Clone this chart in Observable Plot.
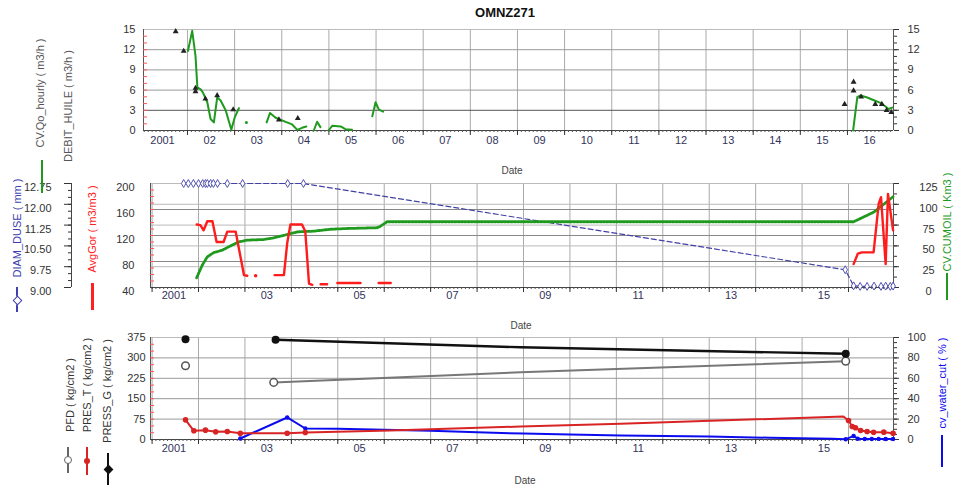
<!DOCTYPE html>
<html><head><meta charset="utf-8">
<script src="https://cdn.jsdelivr.net/npm/d3@7"></script>
<script src="https://cdn.jsdelivr.net/npm/@observablehq/plot@0.6"></script>
<style>
body{margin:0;background:#fff;}
#c{position:relative;width:959px;height:487px;overflow:hidden;font-family:"Liberation Sans",Arial,sans-serif;background:#fff;}
#c svg{position:absolute;left:0;top:0;}
.t{position:absolute;white-space:nowrap;font-size:11px;transform:translate(-50%,-50%) rotate(-90deg);}
.h{position:absolute;white-space:nowrap;transform:translate(-50%,-50%);}
.g{position:absolute;}
</style></head><body><div id="c"></div>
<script>
// ---------- Panel 1 : flow rates ----------
const qoYear = [2002.01,2002.10,2002.17,2002.21,2002.28,2002.33,2002.42,2002.49,2002.56,2002.63,2002.70,2002.81,2002.93,2003.00,2003.09,null,
 2003.68,2003.75,2003.87,2003.97,2004.11,2004.22,2004.33,2004.43,2004.52,null,
 2004.68,2004.75,2004.82,null,
 2004.99,2005.07,2005.25,2005.35,2005.49,null,
 2005.92,2005.99,2006.06,2006.15,null,
 2016.12,2016.21,2016.28,2016.42,2016.56,2016.70,2016.80,2016.87,2016.95];
const qoValue = [11.8,14.8,11.1,6.4,6.1,5.6,4.2,1.7,1.2,4.9,4.5,3.0,0.1,1.9,3.3,null,
 1.2,2.6,1.9,1.6,1.2,0.9,0.1,0.4,0.6,null,
 0.0,1.3,0.5,null,
 0.0,0.7,0.6,0.2,0.1,null,
 2.1,4.2,3.1,2.8,null,
 0,5.0,5.2,4.9,4.5,4.1,3.6,3.2,3.4];
const qoLoneYear = [2003.25], qoLoneValue = [1.2];
const debitYear = [2001.75,2001.92,2002.17,2002.17,2002.38,2002.63,2002.97,2003.94,2004.34,2015.94,2016.13,2016.13,2016.29,2016.59,2016.73,2016.83,2016.93];
const debitValue = [14.7,11.8,6.3,5.8,4.7,5.2,3.1,1.6,1.8,3.9,7.2,5.9,5.0,3.9,3.9,3.0,2.7];
const qTicks = [0,3,6,9,12,15];
const years1 = d3.range(2001, 2017);
const labels1 = ["2001","02","03","04","05","06","07","08","09","10","11","12","13","14","15","16"];

// ---------- Panel 2 : GOR, cum oil, choke ----------
const gorYear = [2001.96,2002.04,2002.11,2002.19,2002.30,2002.39,2002.54,2002.62,2002.80,2002.98,2003.05,null,
 2003.64,2003.84,2003.91,2003.98,2004.23,2004.30,2004.38,2004.45,null,
 2004.63,2004.77,null,2004.99,2005.49,null,2005.88,2006.14,null,
 2016.11,2016.20,2016.29,2016.54,2016.65,2016.70,2016.80,2016.85,2016.96];
const gorValue = [137,136,128,142,142,110,110,126,126,59,58,null,
 59,59,108,137,137,126,46,44,null,
 45,45,null,47,47,null,47,47,null,
 76,92,94,94,169,179,76,184,128];
const gorLoneYear = [2003.23], gorLoneValue = [58];
const cumYear = [2001.96,2002.08,2002.19,2002.33,2002.51,2002.65,2002.87,2003.05,2003.41,2003.62,2003.91,2004.13,2004.48,2004.84,2005.20,2005.85,2005.92,2006.06,2016.11,2016.54,2016.96];
const cumValue = [11.7,26.8,36.9,42,44.8,48.9,54.9,56.9,57.7,59.7,63.7,66.9,67.7,70,70.9,71.8,73.7,79,79,90.5,109];
const diamYear = [2001.68,2001.78,2001.89,2002.00,2002.09,2002.15,2002.19,2002.26,2002.32,2002.41,2002.62,2002.95,2003.92,2004.26,2015.93,2016.11,2016.25,2016.40,2016.55,2016.70,2016.80,2016.90,2016.96];
const diamValue = [12.75,12.75,12.75,12.75,12.75,12.75,12.75,12.75,12.75,12.75,12.75,12.75,12.75,12.75,9.64,9.06,9.04,9.04,9.05,9.04,9.05,9.04,9.05];
const gorTicks = [40,80,120,160,200];
const cumTicks = [0,25,50,75,100,125];
const diamTicks = [9.00,9.75,10.50,11.25,12.00,12.75];
const years2 = d3.range(2001, 2017);
const labYears2 = [2001,2003,2005,2007,2009,2011,2013,2015];
const labels2 = ["2001","03","05","07","09","11","13","15"];

// ---------- Panel 3 : pressures, water cut ----------
const pgYear = [2003.66,2008.94,2015.94], pgValue = [366.5,339,315];
const pgMarkYear = [2001.72,2003.66,2015.94], pgMarkValue = [368.7,366.5,315];
const pfdYear = [2003.62,2008.94,2015.94], pfdValue = [210,247,288];
const pfdMarkYear = [2001.72,2003.62,2015.94], pfdMarkValue = [271,210,288];
const ptYear = [2001.72,2001.90,2002.15,2002.37,2002.62,2002.90,2003.91,2004.30,2006.14,2008.94,2011.09,2013.68,2015.89,2016.00,2016.08,2016.15,2016.26,2016.40,2016.54,2016.76,2016.96];
const ptValue = [72.3,32,34.3,28.2,29.4,23.2,23,25.7,33,47.8,57.7,72.3,84.6,70,48,43,33,29.4,26.9,27,23];
const wcYear = [2002.90,2003.91,2004.30,2005.0,2006.0,2007.0,2008.0,2009.0,2010.0,2011.1,2013.0,2014.3,2015.65,2015.94,2016.11,2016.20,2016.35,2016.5,2016.65,2016.8,2016.96];
const wcValue = [1,21.6,10.8,10.5,9.5,8.5,7,5.8,4.8,3.9,2.9,1.7,0.7,0.2,3.5,0.7,0.5,0.5,0.6,0.5,0.5];
const presTicks = [0,75,150,225,300,375];
const wcTicks = [0,20,40,60,80,100];

// ---------- helpers ----------
const W = 959, H = 487;
const FONT = '"Liberation Sans", Arial, sans-serif';
const green = "#1f9a1f", red = "#ff1c1c", navy = "#4141a8", blue = "#0b0bef", dred = "#d82424";
const rows = (t, v) => t.map((d, i) => ({t: d, v: v[i]}));
const xd1 = [2001.067, 2016.977], xd2 = [2000.966, 2016.969];
const months = dom => d3.range(2001, 2017.001, 1/12).filter(d => d > dom[0] && d < dom[1]);
const blank = () => "";

function xAxes(years, labYears, labels, dom, pad) {
  return [
    Plot.axisX(months(dom), {tickSize: 2, tickFormat: blank, stroke: "#555", label: null}),
    Plot.axisX(years.filter(d => d > dom[0] && d < dom[1]), {tickSize: 5, tickFormat: blank, stroke: "#333", label: null}),
    Plot.axisX(labYears.map(y => y + 0.47), {tickSize: 0, tickPadding: pad, fill: "#33335a",
      tickFormat: d => labels[labYears.indexOf(Math.round(d - 0.47))], label: null})
  ];
}
function plot(box, xdom, ydom, marks) {
  return Plot.plot({
    width: W, height: H,
    marginLeft: box[0], marginRight: W - box[1], marginTop: box[2], marginBottom: H - box[3],
    x: {domain: xdom}, y: {domain: ydom},
    style: {background: "transparent", fontFamily: FONT, fontSize: "11px", color: "#333", overflow: "visible"},
    marks
  });
}

// ---------- Panel 1 ----------
const b1 = [143, 893, 29, 130];
const p1 = plot(b1, xd1, [0, 15], [
  Plot.ruleX(years1.filter(d => d > xd1[0]), {stroke: "#aaa"}),
  Plot.ruleY([6, 9, 12], {stroke: "#999"}),
  Plot.ruleY([3], {stroke: "#555"}),
  Plot.ruleY([15], {stroke: "#bbb"}),
  Plot.ruleX(xd1, {stroke: "#555"}),
  Plot.ruleY([0], {stroke: "#444"}),
  Plot.tickY(d3.range(1, 15), {y: d => d, stroke: "#f55", insetRight: b1[1] - b1[0] - 4}),
  Plot.axisY(qTicks, {anchor: "left", tickSize: 0, tickPadding: 8, label: null}),
  Plot.axisY(qTicks, {anchor: "right", tickSize: 5, tickPadding: 9, label: null}),
  Plot.axisY(d3.range(0, 15.01, 1), {anchor: "right", tickSize: 3, tickFormat: blank, label: null}),
  ...xAxes(years1, years1, labels1, xd1, 6),
  Plot.line(rows(qoYear, qoValue), {x: "t", y: "v", stroke: green, strokeWidth: 2}),
  Plot.dot(rows(qoLoneYear, qoLoneValue), {x: "t", y: "v", fill: green, r: 1.5}),
  Plot.dot(rows(debitYear, debitValue), {x: "t", y: "v", symbol: "triangle", fill: "#222", r: 2.2})
]);

// ---------- Panel 2 ----------
const b2 = [150, 893, 183, 287];
const toC = v => 40 + v * 160 / 125, frC = v => (v - 40) * 125 / 160;
const toD = v => 40 + (v - 9) * 160 / 3.75, frD = v => 9 + (v - 40) * 3.75 / 160;
const p2 = plot(b2, xd2, [40, 200], [
  Plot.ruleX(years2.filter(d => d > xd2[0]), {stroke: "#aaa"}),
  Plot.ruleY(cumTicks.slice(1, -1).map(toC), {stroke: "#bbb"}),
  Plot.ruleY([80, 120, 160], {stroke: "#888"}),
  Plot.ruleY([200], {stroke: "#bbb"}),
  Plot.ruleX(xd2, {stroke: "#555"}),
  Plot.ruleY([40], {stroke: "#444"}),
  Plot.tickY(d3.range(50, 200, 10), {y: d => d, stroke: "#f55", insetRight: b2[1] - b2[0] - 4}),
  Plot.axisY(gorTicks, {anchor: "left", tickSize: 0, tickPadding: 16, dy: 4, label: null}),
  // choke axis, far left
  Plot.ruleX([xd2[0]], {stroke: "#444", dx: -79}),
  Plot.axisY(diamTicks.map(toD), {anchor: "left", dx: -79, tickSize: 7, tickFormat: blank, label: null}),
  Plot.axisY(d3.range(9, 12.76, 0.25).map(toD), {anchor: "left", dx: -79, tickSize: 3, tickFormat: blank, label: null}),
  Plot.axisY(diamTicks.map(toD), {anchor: "left", dx: -79, dy: 4, tickSize: 0, tickPadding: 20, tickFormat: v => d3.format(".2f")(frD(v)), label: null}),
  // cum oil axis, right
  Plot.axisY(cumTicks.map(toC), {anchor: "right", tickSize: 5, tickFormat: blank, label: null}),
  Plot.axisY(d3.range(0, 125.1, 12.5).map(toC), {anchor: "right", tickSize: 3, tickFormat: blank, label: null}),
  Plot.axisY(cumTicks.map(toC), {anchor: "right", tickSize: 0, tickPadding: 35, dy: 4, textAnchor: "middle", tickFormat: v => Math.round(frC(v)), label: null}),
  ...xAxes(years2, labYears2, labels2, xd2, 4),
  Plot.line(rows(diamYear, diamValue), {x: "t", y: d => toD(d.v), stroke: navy, strokeWidth: 1.2, strokeDasharray: "5,3"}),
  Plot.dot(rows(diamYear, diamValue), {x: "t", y: d => toD(d.v), symbol: "diamond", fill: "white", stroke: navy, strokeWidth: 0.9, r: 2.4}),
  Plot.line(rows(cumYear, cumValue), {x: "t", y: d => toC(d.v), stroke: green, strokeWidth: 2.8, strokeDasharray: "2,1.3"}),
  Plot.line(rows(gorYear, gorValue), {x: "t", y: "v", stroke: red, strokeWidth: 2.4}),
  Plot.dot(rows(gorLoneYear, gorLoneValue), {x: "t", y: "v", fill: red, r: 1.8})
]);

// ---------- Panel 3 ----------
const b3 = [150, 893, 337, 439];
const toW = v => v * 3.75, frW = v => v / 3.75;
const p3 = plot(b3, xd2, [0, 375], [
  Plot.ruleX(years2.filter(d => d > xd2[0]), {stroke: "#aaa"}),
  Plot.ruleY([75, 150, 225, 300], {stroke: "#999"}),
  Plot.ruleY([375], {stroke: "#bbb"}),
  Plot.ruleX(xd2, {stroke: "#555"}),
  Plot.ruleY([0], {stroke: "#444"}),
  Plot.tickY(d3.range(25, 375, 25), {y: d => d, stroke: "#f55", insetRight: b3[1] - b3[0] - 4}),
  Plot.axisY(presTicks, {anchor: "left", tickSize: 0, tickPadding: 5, label: null}),
  Plot.axisY(wcTicks.map(toW), {anchor: "right", tickSize: 5, tickPadding: 9, tickFormat: v => Math.round(frW(v)), label: null}),
  Plot.axisY(d3.range(0, 100.1, 5).map(toW), {anchor: "right", tickSize: 3, tickFormat: blank, label: null}),
  ...xAxes(years2, labYears2, labels2, xd2, 5),
  Plot.line(rows(pfdYear, pfdValue), {x: "t", y: "v", stroke: "#777", strokeWidth: 2}),
  Plot.dot(rows(pfdMarkYear, pfdMarkValue), {x: "t", y: "v", fill: "white", stroke: "#555", strokeWidth: 1.5, r: 3.8}),
  Plot.line(rows(pgYear, pgValue), {x: "t", y: "v", stroke: "#111", strokeWidth: 2.4}),
  Plot.dot(rows(pgMarkYear, pgMarkValue), {x: "t", y: "v", fill: "#111", r: 4}),
  Plot.line(rows(wcYear, wcValue), {x: "t", y: d => toW(d.v), stroke: blue, strokeWidth: 2}),
  Plot.dot(rows(wcYear, wcValue).filter(d => d.t < 2004.5 || d.t > 2015.9), {x: "t", y: d => toW(d.v), fill: blue, r: 2.2}),
  Plot.line(rows(ptYear, ptValue), {x: "t", y: "v", stroke: dred, strokeWidth: 2}),
  Plot.dot(rows(ptYear, ptValue).filter(d => d.t < 2005 || d.t > 2015.95), {x: "t", y: "v", fill: dred, r: 2.8})
]);

// ---------- assemble ----------
const c = document.getElementById("c");
[p1, p2, p3].forEach(p => c.appendChild(p));

const titles = [
  ["CV.Qo_hourly ( m3/h )", 40, 93, "#555"],
  ["DEBIT_HUILE ( m3/h )", 68, 106, "#555"],
  ["DIAM_DUSE ( mm )", 17, 228, "#4040b0"],
  ["AvgGor ( m3/m3 )", 92, 229, "#ff2020"],
  ["CV.CUMOIL ( Km3 )", 947, 222, green],
  ["PFD ( kg/cm2 )", 70, 395, "#333"],
  ["PRES_T ( kg/cm2 )", 87, 385, "#333"],
  ["PRESS_G ( kg/cm2 )", 107, 391, "#333"],
  ["cv_water_cut ( % )", 942, 383, blue]
];
titles.forEach(([s, x, y, col]) => {
  const d = document.createElement("div");
  d.className = "t"; d.textContent = s;
  d.style.left = x + "px"; d.style.top = y + "px"; d.style.color = col;
  c.appendChild(d);
});
const heads = [["OMNZ271", 505, 12, "bold 13px", "#111"], ["Date", 512, 170, "10px", "#444"], ["Date", 521, 325, "10px", "#444"], ["Date", 525, 480, "10px", "#444"]];
heads.forEach(([s, x, y, f, col]) => {
  const d = document.createElement("div");
  d.className = "h"; d.textContent = s;
  d.style.left = x + "px"; d.style.top = y + "px"; d.style.font = f + " " + FONT; d.style.color = col;
  c.appendChild(d);
});
// legend glyphs: [x, y1, y2, colour, width, marker]
const glyphs = [
  [42, 160, 193, green, 2.5, null],
  [17, 287, 312, "#4040b0", 1.2, "diamond"],
  [92, 283, 310, "#ff2020", 3, null],
  [947, 273, 300, green, 2.5, null],
  [68, 447, 473, "#666", 1.5, "ocircle"],
  [87, 447, 475, dred, 1.5, "dot"],
  [108, 453, 485, "#111", 2.5, "bdiamond"],
  [942, 435, 467, blue, 2.5, null]
];
glyphs.forEach(([x, y1, y2, col, w, m]) => {
  const d = document.createElement("div");
  d.className = "g";
  d.style.left = (x - w / 2) + "px"; d.style.top = y1 + "px";
  d.style.width = w + "px"; d.style.height = (y2 - y1) + "px"; d.style.background = col;
  c.appendChild(d);
  if (m) {
    const e = document.createElement("div");
    e.className = "g";
    const ym = (y1 + y2) / 2;
    if (m === "diamond") { e.style.cssText += `left:${x-3}px;top:${ym-3}px;width:5px;height:5px;border:1px solid ${col};background:#fff;transform:rotate(45deg);`; }
    if (m === "ocircle") { e.style.cssText += `left:${x-4}px;top:${ym-4}px;width:6px;height:6px;border:1.5px solid ${col};border-radius:50%;background:#fff;`; }
    if (m === "dot") { e.style.cssText += `left:${x-3}px;top:${ym-3}px;width:6px;height:6px;border-radius:50%;background:${col};`; }
    if (m === "bdiamond") { e.style.cssText += `left:${x-3.5}px;top:${ym-3.5}px;width:7px;height:7px;background:${col};transform:rotate(45deg);`; }
    c.appendChild(e);
  }
});
</script></body></html>
